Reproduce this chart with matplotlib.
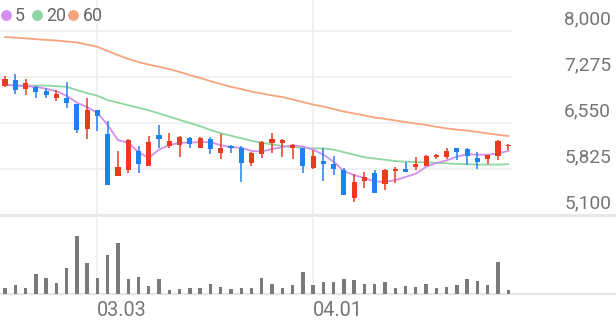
"""
Daily candlestick chart with 5/20/60 moving averages and a volume panel.
Saves out.png (616x321 px).
"""
import matplotlib

matplotlib.use("Agg")
import matplotlib.pyplot as plt
from matplotlib import transforms
from matplotlib.lines import Line2D


W, H = 616, 321
FONT = "Roboto"

UP = "#ec3a1e"
DOWN = "#1f80f0"
VOL = "#7a7a7a"
GRID = "#efefef"
TEXT = "#757575"
MA_COLORS = {"5": "#d390ee", "20": "#8fd6a3", "60": "#f6a47e"}

opens = [7130, 7230, 7080, 7120, 7050, 6950, 6950, 6850, 6450, 6760,
         6370, 5710, 5810, 6110, 5880, 6360, 6180, 6200, 6310, 6150,
         6300, 6070, 6190, 6160, 5920, 6060, 6240, 6230, 6150, 6150,
         5840, 5950, 5900, 5810, 5370, 5640, 5760, 5590, 5800, 5830,
         5860, 5870, 6010, 6020, 6150, 6140, 6000, 5980, 6030, 6190]
highs = [7290, 7330, 7240, 7130, 7100, 7070, 7190, 6850, 6950, 6760,
         6580, 6110, 6290, 6180, 6350, 6520, 6400, 6340, 6330, 6330,
         6330, 6370, 6210, 6180, 6100, 6270, 6400, 6290, 6220, 6160,
         6120, 6150, 6030, 5840, 5740, 5770, 5810, 5830, 5850, 5940,
         6020, 6050, 6060, 6150, 6160, 6150, 6100, 6050, 6280, 6220]
lows = [7120, 7010, 6990, 6940, 6950, 6890, 6780, 6400, 6300, 6430,
        5580, 5710, 5760, 5760, 5880, 6160, 6150, 6020, 6150, 6150,
        6060, 5990, 6070, 5620, 5870, 6000, 6070, 6020, 5980, 5760,
        5830, 5640, 5730, 5410, 5310, 5520, 5440, 5490, 5610, 5780,
        5810, 5870, 5980, 5990, 5970, 5890, 5820, 5900, 5970, 6120]
closes = [7240, 7070, 7180, 7040, 6990, 7000, 6870, 6440, 6760, 6660,
          5580, 5850, 6280, 5910, 6250, 6300, 6260, 6330, 6220, 6310,
          6140, 6160, 6160, 5920, 6070, 6250, 6290, 6280, 6210, 5880,
          6030, 5900, 5820, 5420, 5620, 5700, 5440, 5810, 5830, 5780,
          5900, 6030, 6050, 6110, 6100, 6030, 5940, 6050, 6270, 6210]

ma5 = [7150, 7140, 7130, 7120, 7090, 7050, 6980, 6870, 6800, 6710,
       6520, 6280, 6240, 6090, 6000, 6130, 6200, 6240, 6240, 6250,
       6250, 6200, 6170, 6160, 6110, 6100, 6140, 6170, 6200, 6180,
       6130, 6050, 5940, 5790, 5730, 5680, 5630, 5620, 5650, 5700,
       5750, 5860, 5920, 5960, 6020, 6060, 6050, 6050, 6070, 6110]
ma20 = [7150, 7150, 7140, 7140, 7140, 7130, 7120, 7070, 7020, 6980,
        6910, 6870, 6830, 6790, 6750, 6700, 6650, 6600, 6550, 6500,
        6440, 6390, 6350, 6310, 6270, 6240, 6210, 6190, 6170, 6160,
        6150, 6150, 6130, 6090, 6050, 6010, 5990, 5970, 5950, 5940,
        5935, 5930, 5920, 5915, 5905, 5900, 5895, 5895, 5895, 5900]
ma60 = [7905, 7895, 7885, 7870, 7860, 7850, 7835, 7820, 7785, 7750,
        7685, 7620, 7560, 7510, 7470, 7435, 7400, 7355, 7305, 7260,
        7210, 7165, 7120, 7085, 7045, 7015, 6985, 6960, 6920, 6880,
        6840, 6810, 6770, 6730, 6700, 6670, 6635, 6615, 6590, 6565,
        6540, 6520, 6490, 6465, 6445, 6430, 6410, 6385, 6365, 6345]

volumes = [230, 330, 210, 780, 610, 410, 1010, 2310, 1210, 630,
           1540, 2010, 570, 650, 310, 570, 140, 170, 220, 210,
           380, 270, 170, 230, 230, 610, 380, 210, 350, 850,
           340, 450, 450, 570, 540, 370, 370, 470, 210, 310,
           270, 380, 230, 270, 340, 570, 500, 340, 1260, 140]

price_ticks = [8000, 7275, 6550, 5825, 5100]
date_idx = [9, 30]
date_labels = ["03.03", "04.01"]


def px_rect(x0, y0, x1, y1):
    return [x0 / W, 1 - y1 / H, (x1 - x0) / W, (y1 - y0) / H]


def main():
    fig = plt.figure(figsize=(W / 100, H / 100), dpi=100)
    fig.patch.set_facecolor("white")

    # candle i sits at 5 + 10.27*i px
    step = 10.27
    x_left = -5 / step
    x_right = (W - 5) / step
    x_plot_end = (512 - 5) / step
    n = len(closes)
    xs = list(range(n))

    ax = fig.add_axes(px_rect(0, 0, W, 215))
    vax = fig.add_axes(px_rect(0, 215, W, 293.5))
    for a in (ax, vax):
        a.set_xlim(x_left, x_right)
        a.axis("off")

    ppx = 725 / 46  # price per pixel
    ax.set_ylim(5100, 8000 + 31 * ppx)
    vax.set_ylim(0, 78.5 * 40)

    for t in price_ticks[:-1]:
        ax.hlines(t, x_left, x_plot_end, color=GRID, lw=1.2, zorder=0)
    ax.axhline(5100, color="#e6e6e6", lw=2.0, zorder=0, clip_on=False)
    vax.axhline(0, color="#e4e4e4", lw=1.6, zorder=0, clip_on=False)
    for d in date_idx:
        ax.axvline(d, color=GRID, lw=1.2, zorder=0)
        vax.axvline(d, color=GRID, lw=1.2, zorder=0)

    ax.plot(xs, ma60, color=MA_COLORS["60"], lw=1.3, zorder=2)
    ax.plot(xs, ma20, color=MA_COLORS["20"], lw=1.3, zorder=2)
    ax.plot(xs, ma5, color=MA_COLORS["5"], lw=1.3, zorder=2)

    for i in xs:
        o, h, l, c = opens[i], highs[i], lows[i], closes[i]
        color = UP if c >= o else DOWN
        ax.vlines(i, l, h, color=color, lw=1.1, zorder=3)
        body = max(abs(c - o), 1.2 * ppx)
        ax.bar(i, body, bottom=min(o, c), width=0.5, color=color, lw=0, zorder=4)

    vax.bar(xs, volumes, width=0.33, color=VOL, lw=0, zorder=3)

    # price labels at the right, sitting just above their grid line
    lab_tr = transforms.offset_copy(
        transforms.blended_transform_factory(fig.transFigure, ax.transData),
        fig=fig, y=4.5, units="points")
    for t in price_ticks:
        ax.text(611 / W, t, f"{t:,}", transform=lab_tr, ha="right", va="baseline",
                fontsize=13.8, color=TEXT, family=FONT, clip_on=False)

    date_tr = transforms.blended_transform_factory(vax.transData, fig.transFigure)
    for d, lab in zip(date_idx, date_labels):
        vax.text(d - 0.06, 1 - 316.5 / H, lab, transform=date_tr, ha="left",
                 va="baseline", fontsize=14.3, color=TEXT, family=FONT,
                 clip_on=False)

    # legend row
    legend = [("5", 5.5, 15), ("20", 36.7, 46), ("60", 73, 83)]
    for key, dot_x, text_x in legend:
        fig.add_artist(Line2D([dot_x / W], [1 - 15 / H], marker="o", ms=6.8,
                              color=MA_COLORS[key], lw=0, transform=fig.transFigure))
        fig.text(text_x / W, 1 - 20.7 / H, key, ha="left", va="baseline",
                 fontsize=12.8, color="#666666", family=FONT)

    fig.savefig("out.png", dpi=100, facecolor="white")
    plt.close(fig)


if __name__ == "__main__":
    main()
